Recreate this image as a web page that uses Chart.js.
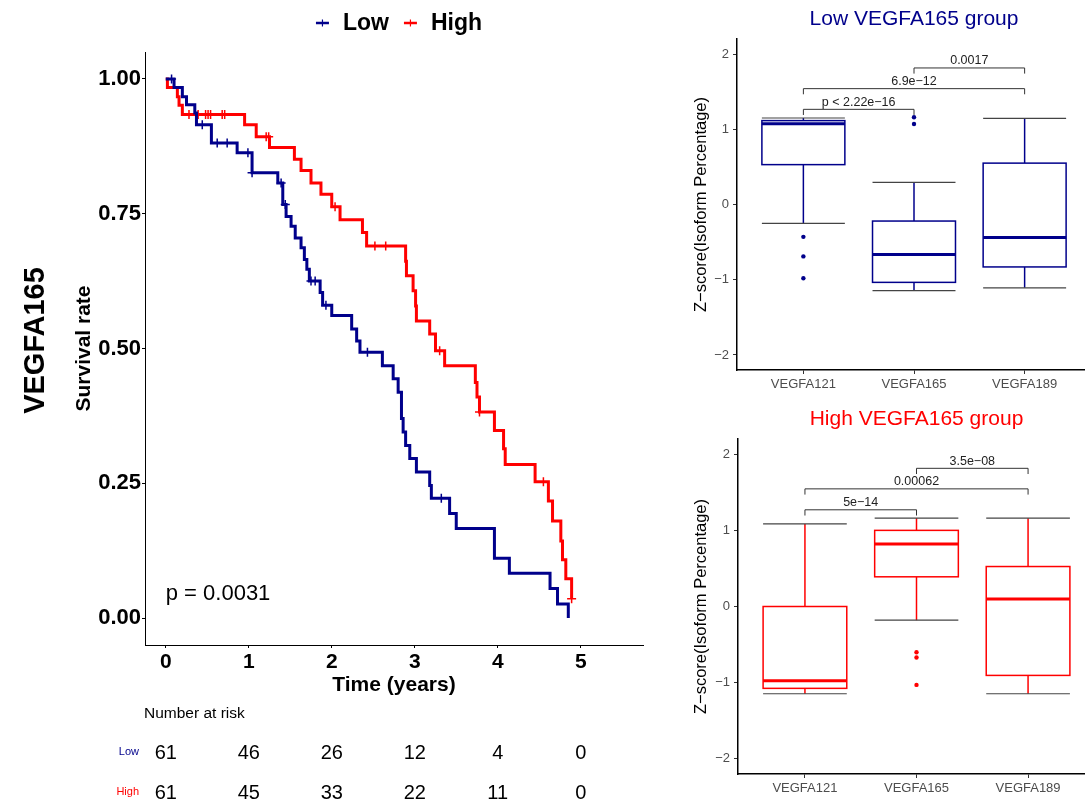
<!DOCTYPE html>
<html>
<head>
<meta charset="utf-8">
<script src="https://cdn.jsdelivr.net/npm/chart.js@4.4.1/dist/chart.umd.min.js"></script>
<style>
  body { margin: 0; background: #fff; overflow: hidden; width: 1085px; height: 803px; position: relative; }
  canvas { position: absolute; }
  #km { left: 0; top: 0; }
  #lowBox { left: 680px; top: 0; }
  #highBox { left: 680px; top: 400px; }
</style>
</head>
<body>
<canvas id="km" width="660" height="803"></canvas>
<canvas id="lowBox" width="415" height="400"></canvas>
<canvas id="highBox" width="419" height="403"></canvas>
<script>
const FF = "'Liberation Sans', Arial, sans-serif";
const LOW = '#00008B';
const HIGH = '#FF0000';

// Kaplan-Meier steps (time in years, survival after the step)
const lowTime = [0, 0.10, 0.20, 0.25, 0.35, 0.37, 0.55, 0.86, 1.04, 1.35, 1.41, 1.45, 1.51, 1.56, 1.63, 1.67, 1.70, 1.73, 1.86, 1.89, 2.00, 2.24, 2.30, 2.34, 2.61, 2.74, 2.80, 2.84, 2.86, 2.89, 2.94, 3.02, 3.18, 3.20, 3.42, 3.50, 3.96, 4.14, 4.63, 4.72, 4.85];
const lowSurv = [1, 0.984, 0.967, 0.952, 0.937, 0.915, 0.881, 0.863, 0.826, 0.807, 0.767, 0.745, 0.727, 0.705, 0.687, 0.665, 0.647, 0.625, 0.604, 0.580, 0.561, 0.536, 0.514, 0.493, 0.468, 0.444, 0.419, 0.370, 0.345, 0.320, 0.296, 0.271, 0.246, 0.222, 0.194, 0.166, 0.111, 0.083, 0.055, 0.026, 0];
const highTime = [0, 0.02, 0.14, 0.16, 0.20, 0.95, 1.09, 1.25, 1.55, 1.63, 1.75, 1.87, 2.00, 2.10, 2.37, 2.42, 2.89, 2.90, 2.98, 3.01, 3.02, 3.18, 3.25, 3.36, 3.73, 3.75, 3.78, 3.96, 4.07, 4.09, 4.45, 4.61, 4.66, 4.76, 4.78, 4.82, 4.89];
const highSurv = [1, 0.984, 0.967, 0.951, 0.934, 0.915, 0.893, 0.873, 0.851, 0.830, 0.807, 0.786, 0.763, 0.739, 0.715, 0.690, 0.662, 0.635, 0.607, 0.579, 0.551, 0.527, 0.496, 0.468, 0.437, 0.410, 0.382, 0.348, 0.314, 0.285, 0.253, 0.217, 0.180, 0.143, 0.108, 0.073, 0.036];
const lowCensor = [0.07, 0.44, 0.62, 0.74, 0.99, 1.04, 1.39, 1.44, 1.75, 1.80, 1.93, 2.43, 3.32];
const highCensor = [0.28, 0.39, 0.48, 0.51, 0.54, 0.68, 0.71, 1.21, 1.24, 2.04, 2.52, 2.65, 3.30, 3.78, 4.55, 4.89];

const kmXTicks = [0, 1, 2, 3, 4, 5];
const kmYTicks = [0, 0.25, 0.5, 0.75, 1];
const riskTimes = [0, 1, 2, 3, 4, 5];
const riskLow = [61, 46, 26, 12, 4, 0];
const riskHigh = [61, 45, 33, 22, 11, 0];
const pText = 'p = 0.0031';

// boxplots
const isoforms = ['VEGFA121', 'VEGFA165', 'VEGFA189'];
const boxYTicks = [-2, -1, 0, 1, 2];
const lowMin = [-0.25, -1.146, -1.107];
const lowQ1 = [0.53, -1.035, -0.83];
const lowMed = [1.075, -0.665, -0.44];
const lowQ3 = [1.115, -0.22, 0.55];
const lowMax = [1.15, 0.295, 1.146];
const lowOutX = [0, 0, 0, 1, 1];
const lowOutY = [-0.43, -0.69, -0.98, 1.16, 1.07];
const lowBrFrom = [0, 0, 1];
const lowBrTo = [1, 2, 2];
const lowBrY = [1.265, 1.54, 1.815];
const lowBrLabel = ['p < 2.22e\u221216', '6.9e\u221212', '0.0017'];

const highMin = [-1.146, -0.18, -1.146];
const highQ1 = [-1.075, 0.39, -0.905];
const highMed = [-0.975, 0.82, 0.10];
const highQ3 = [0.0, 1.0, 0.525];
const highMax = [1.085, 1.16, 1.16];
const highOutX = [1, 1, 1];
const highOutY = [-0.6, -0.67, -1.03];
const highBrFrom = [0, 0, 1];
const highBrTo = [1, 2, 2];
const highBrY = [1.27, 1.545, 1.815];
const highBrLabel = ['5e\u221214', '0.00062', '3.5e\u221208'];

function survAt(times, surv, t) {
  let s = 1;
  for (let i = 0; i < times.length; i++) if (times[i] <= t) s = surv[i];
  return s;
}

const kmExtras = {
  id: 'kmExtras',
  afterDraw(chart) {
    const { ctx, chartArea: ca, scales: { x, y } } = chart;
    ctx.save();
    // legend
    ctx.font = `bold 23px ${FF}`;
    ctx.textBaseline = 'middle';
    const items = [{ t: 'Low', c: LOW }, { t: 'High', c: HIGH }];
    const sym = 13, gap = 14, itemGap = 15;
    let total = itemGap;
    items.forEach(it => total += sym + gap + ctx.measureText(it.t).width);
    let xx = (ca.left + ca.right) / 2 + 5 - total / 2;
    const ly = 23;
    items.forEach(it => {
      ctx.strokeStyle = it.c;
      ctx.lineWidth = 2.5;
      ctx.beginPath(); ctx.moveTo(xx, ly); ctx.lineTo(xx + sym, ly); ctx.stroke();
      ctx.lineWidth = 1.2;
      ctx.beginPath(); ctx.moveTo(xx + sym / 2, ly - 3.5); ctx.lineTo(xx + sym / 2, ly + 3.5); ctx.stroke();
      ctx.fillStyle = '#000';
      ctx.textAlign = 'left';
      ctx.fillText(it.t, xx + sym + gap, ly + 1);
      xx += sym + gap + ctx.measureText(it.t).width + itemGap;
    });
    // big row label
    ctx.save();
    ctx.translate(36, (ca.top + ca.bottom) / 2 - 8);
    ctx.rotate(-Math.PI / 2);
    ctx.font = `bold 29px ${FF}`;
    ctx.textAlign = 'center';
    ctx.fillStyle = '#000';
    ctx.fillText('VEGFA165', 0, 0);
    ctx.restore();
    // p value
    ctx.font = `22px ${FF}`;
    ctx.textAlign = 'left';
    ctx.fillStyle = '#000';
    ctx.fillText(pText, x.getPixelForValue(0), y.getPixelForValue(0.045));
    // risk table
    ctx.font = `15.5px ${FF}`;
    ctx.fillText('Number at risk', 144, 714);
    ctx.font = `11px ${FF}`;
    ctx.textAlign = 'right';
    ctx.fillStyle = LOW; ctx.fillText('Low', 139, 752);
    ctx.fillStyle = HIGH; ctx.fillText('High', 139, 792);
    ctx.font = `20px ${FF}`;
    ctx.textAlign = 'center';
    ctx.fillStyle = '#000';
    riskTimes.forEach((t, i) => {
      const px = x.getPixelForValue(t);
      ctx.fillText(String(riskLow[i]), px, 753);
      ctx.fillText(String(riskHigh[i]), px, 793);
    });
    ctx.restore();
  }
};

new Chart(document.getElementById('km'), {
  type: 'line',
  data: {
    datasets: [
      { label: 'Low', data: lowTime.map((t, i) => ({ x: t, y: lowSurv[i] })), borderColor: LOW, borderWidth: 3, stepped: 'before', pointRadius: 0, fill: false },
      { label: 'High', data: highTime.map((t, i) => ({ x: t, y: highSurv[i] })), borderColor: HIGH, borderWidth: 3, stepped: 'before', pointRadius: 0, fill: false },
      { type: 'scatter', label: 'Low censored', data: lowCensor.map(t => ({ x: t, y: survAt(lowTime, lowSurv, t) })), pointStyle: 'cross', pointRadius: 4.5, borderColor: LOW, backgroundColor: LOW, borderWidth: 1.5 },
      { type: 'scatter', label: 'High censored', data: highCensor.map(t => ({ x: t, y: survAt(highTime, highSurv, t) })), pointStyle: 'cross', pointRadius: 4.5, borderColor: HIGH, backgroundColor: HIGH, borderWidth: 1.5 }
    ]
  },
  options: {
    responsive: false,
    animation: false,
    layout: { padding: { top: 52, right: 17, bottom: 103, left: 0 } },
    plugins: { legend: { display: false }, tooltip: { enabled: false } },
    scales: {
      x: {
        type: 'linear', min: -0.25, max: 5.75,
        afterBuildTicks: s => { s.ticks = kmXTicks.map(v => ({ value: v })); },
        afterFit: s => { s.height = 55; },
        ticks: { callback: v => String(v), font: { family: FF, size: 21, weight: 'bold' }, color: '#000', padding: 2, maxRotation: 0 },
        grid: { drawOnChartArea: false, color: '#000', tickLength: 3, lineWidth: 1 },
        border: { color: '#000', width: 1 },
        title: { display: true, text: 'Time (years)', color: '#000', font: { family: FF, size: 21, weight: 'bold' }, padding: { top: 0, bottom: 2 } }
      },
      y: {
        type: 'linear', min: -0.05, max: 1.05,
        afterBuildTicks: s => { s.ticks = kmYTicks.map(v => ({ value: v })); },
        afterFit: s => { s.width = 145; },
        ticks: { callback: v => v.toFixed(2), font: { family: FF, size: 22, weight: 'bold' }, color: '#000', padding: 1 },
        grid: { drawOnChartArea: false, color: '#000', tickLength: 3, lineWidth: 1 },
        border: { color: '#000', width: 1 },
        title: { display: true, text: 'Survival rate', color: '#000', font: { family: FF, size: 21, weight: 'bold' }, padding: { top: 72, bottom: 0 } }
      }
    }
  },
  plugins: [kmExtras]
});

function makeBoxPlugin(cfg) {
  return {
    id: 'boxes',
    beforeDatasetsDraw(chart) {
      const { ctx, scales: { x, y } } = chart;
      const Y = v => y.getPixelForValue(v);
      const seg = (x1, y1, x2, y2) => { ctx.beginPath(); ctx.moveTo(x1, y1); ctx.lineTo(x2, y2); ctx.stroke(); };
      ctx.save();
      cfg.q1.forEach((q1, i) => {
        const cx = x.getPixelForValue(i);
        const l = x.getPixelForValue(i - 0.375), r = x.getPixelForValue(i + 0.375);
        ctx.strokeStyle = cfg.color; ctx.lineWidth = 1.5;
        seg(cx, Y(cfg.q3[i]), cx, Y(cfg.max[i]));
        seg(cx, Y(q1), cx, Y(cfg.min[i]));
        ctx.strokeStyle = '#444'; ctx.lineWidth = 1.2;
        seg(l, Y(cfg.max[i]), r, Y(cfg.max[i]));
        seg(l, Y(cfg.min[i]), r, Y(cfg.min[i]));
        ctx.strokeStyle = cfg.color; ctx.lineWidth = 1.5;
        ctx.fillStyle = '#fff';
        ctx.fillRect(l, Y(cfg.q3[i]), r - l, Y(q1) - Y(cfg.q3[i]));
        ctx.strokeRect(l, Y(cfg.q3[i]), r - l, Y(q1) - Y(cfg.q3[i]));
        ctx.lineWidth = 3;
        seg(l, Y(cfg.med[i]), r, Y(cfg.med[i]));
      });
      // significance brackets
      ctx.strokeStyle = '#333'; ctx.lineWidth = 1;
      ctx.fillStyle = '#222';
      ctx.font = `12.5px ${FF}`;
      ctx.textAlign = 'center';
      ctx.textBaseline = 'bottom';
      cfg.brFrom.forEach((f, i) => {
        const x1 = x.getPixelForValue(f), x2 = x.getPixelForValue(cfg.brTo[i]);
        const yy = Y(cfg.brY[i]), leg = Y(cfg.brY[i] - 0.075);
        ctx.beginPath(); ctx.moveTo(x1, leg); ctx.lineTo(x1, yy); ctx.lineTo(x2, yy); ctx.lineTo(x2, leg); ctx.stroke();
        ctx.fillText(cfg.brLabel[i], (x1 + x2) / 2, yy - 1);
      });
      ctx.restore();
    },
    afterDraw(chart) {
      const { ctx, scales: { x } } = chart;
      ctx.save();
      ctx.font = `21px ${FF}`;
      ctx.fillStyle = cfg.color;
      ctx.textAlign = 'center';
      ctx.textBaseline = 'middle';
      ctx.fillText(cfg.title, x.getPixelForValue(1), 19);
      ctx.restore();
    }
  };
}

function boxChart(id, cfg) {
  return new Chart(document.getElementById(id), {
    type: 'scatter',
    data: {
      datasets: [{
        data: cfg.outX.map((v, i) => ({ x: v, y: cfg.outY[i] })),
        pointRadius: 2.2, backgroundColor: cfg.color, borderWidth: 0
      }]
    },
    options: {
      responsive: false,
      animation: false,
      layout: { padding: { top: cfg.top, right: 0, bottom: 0, left: 0 } },
      plugins: { legend: { display: false }, tooltip: { enabled: false } },
      scales: {
        x: {
          type: 'linear', min: -0.6, max: 2.6,
          afterBuildTicks: s => { s.ticks = isoforms.map((c, i) => ({ value: i })); },
          afterFit: s => { s.height = cfg.xh; },
          ticks: { callback: v => isoforms[v], font: { family: FF, size: 13 }, color: '#4D4D4D', padding: 3, maxRotation: 0 },
          grid: { drawOnChartArea: false, color: '#333', tickLength: 4, lineWidth: 1 },
          border: { color: '#000', width: 1.5 }
        },
        y: {
          type: 'linear', min: -2.2, max: 2.2,
          afterBuildTicks: s => { s.ticks = boxYTicks.map(v => ({ value: v })); },
          afterFit: s => { s.width = cfg.yw; },
          ticks: { callback: v => v < 0 ? '\u2212' + Math.abs(v) : String(v), font: { family: FF, size: 13 }, color: '#4D4D4D', padding: 4 },
          grid: { drawOnChartArea: false, color: '#333', tickLength: 4, lineWidth: 1 },
          border: { color: '#000', width: 1.5 },
          title: { display: true, text: 'Z\u2212score(Isoform Percentage)', color: '#000', font: { family: FF, size: 16.5 }, padding: { top: 12, bottom: 0 } }
        }
      }
    },
    plugins: [makeBoxPlugin(cfg)]
  });
}

boxChart('lowBox', {
  title: 'Low VEGFA165 group', color: LOW, top: 39, xh: 30, yw: 57,
  min: lowMin, q1: lowQ1, med: lowMed, q3: lowQ3, max: lowMax,
  outX: lowOutX, outY: lowOutY,
  brFrom: lowBrFrom, brTo: lowBrTo, brY: lowBrY, brLabel: lowBrLabel
});
boxChart('highBox', {
  title: 'High VEGFA165 group', color: HIGH, top: 39, xh: 29, yw: 58,
  min: highMin, q1: highQ1, med: highMed, q3: highQ3, max: highMax,
  outX: highOutX, outY: highOutY,
  brFrom: highBrFrom, brTo: highBrTo, brY: highBrY, brLabel: highBrLabel
});
</script>
</body>
</html>
